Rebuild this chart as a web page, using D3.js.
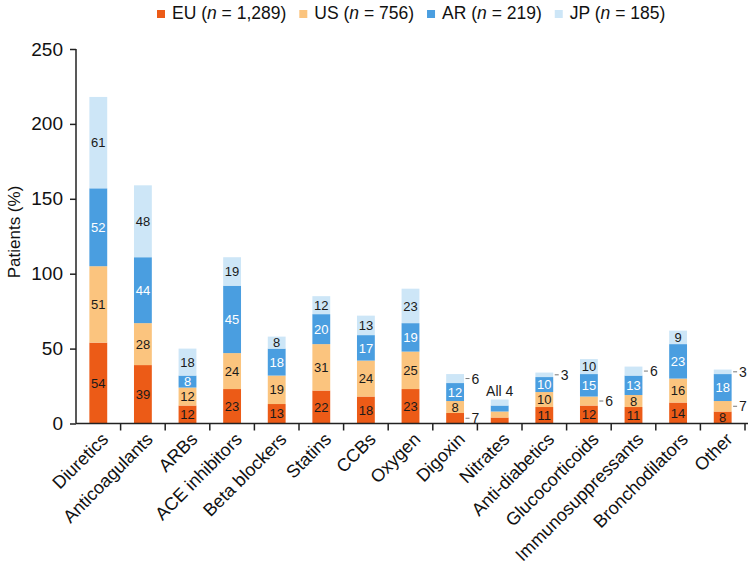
<!DOCTYPE html>
<html>
<head>
<meta charset="utf-8">
<script src="https://cdn.jsdelivr.net/npm/d3@7"></script>
<style>
  html, body { margin: 0; padding: 0; background: #fff; }
  svg { display: block; font-family: "Liberation Sans", Arial, Helvetica, sans-serif; }
</style>
</head>
<body>
<svg id="chart" width="750" height="574"></svg>
<script>
// ---- Data ----
const categories = ["Diuretics", "Anticoagulants", "ARBs", "ACE inhibitors", "Beta blockers",
  "Statins", "CCBs", "Oxygen", "Digoxin", "Nitrates", "Anti-diabetics", "Glucocorticoids",
  "Immunosuppressants", "Bronchodilators", "Other"];
const seriesNames = ["EU", "US", "AR", "JP"];
const seriesN = ["1,289", "756", "219", "185"];
const EU = [54, 39, 12, 23, 13, 22, 18, 23, 7, 4, 11, 12, 11, 14, 8];
const US = [51, 28, 12, 24, 19, 31, 24, 25, 8, 4, 10, 6, 8, 16, 7];
const AR = [52, 44, 8, 45, 18, 20, 17, 19, 12, 4, 10, 15, 13, 23, 18];
const JP = [61, 48, 18, 19, 8, 12, 13, 23, 6, 4, 3, 10, 6, 9, 3];
const yTicks = [0, 50, 100, 150, 200, 250];
const yTitle = "Patients (%)";
const unlabeledCategory = "Nitrates";
const unlabeledNote = "All 4";
const outsideThreshold = 7; // values this small are labelled beside the bar

const colors = ["#EC5B17", "#FBC47E", "#4A9EE0", "#CDE6F7"];
const labelColors = ["#1a1a1a", "#1a1a1a", "#ffffff", "#1a1a1a"];

// ---- Build table ----
const seriesValues = [EU, US, AR, JP];
const table = categories.map((c, i) => {
  const row = { category: c };
  seriesNames.forEach((s, k) => row[s] = seriesValues[k][i]);
  return row;
});
const stacked = d3.stack().keys(seriesNames)(table);

// ---- Layout ----
const svg = d3.select("#chart");
const x0 = 76, x1 = 745, yBottom = 423.5, yTop = 49;

const x = d3.scaleBand().domain(categories).range([x0, x1])
  .paddingInner(0.6).paddingOuter(0.3);
const y = d3.scaleLinear().domain([0, 250]).range([yBottom, yTop]);

// Bars
const g = svg.append("g");
stacked.forEach((layer, k) => {
  g.selectAll(null).data(layer).enter().append("rect")
    .attr("x", d => x(d.data.category))
    .attr("width", x.bandwidth())
    .attr("y", d => y(d[1]))
    .attr("height", d => y(d[0]) - y(d[1]))
    .attr("fill", colors[k]);
});

// Segment labels
stacked.forEach((layer, k) => {
  layer.forEach(d => {
    const v = d[1] - d[0];
    const cat = d.data.category;
    if (cat === unlabeledCategory) return;
    const cy = (y(d[0]) + y(d[1])) / 2;
    if (v <= outsideThreshold) {
      const bx = x(cat) + x.bandwidth();
      g.append("line")
        .attr("x1", bx + 1.5).attr("x2", bx + 5.5)
        .attr("y1", cy).attr("y2", cy)
        .attr("stroke", "#777").attr("stroke-width", 1);
      g.append("text")
        .attr("x", bx + 7.5).attr("y", cy)
        .attr("dy", "0.36em")
        .attr("font-size", 14)
        .attr("fill", "#1a1a1a")
        .text(v);
    } else {
      g.append("text")
        .attr("x", x(cat) + x.bandwidth() / 2).attr("y", cy)
        .attr("dy", "0.36em")
        .attr("text-anchor", "middle")
        .attr("font-size", 13)
        .attr("fill", labelColors[k])
        .text(v);
    }
  });
});

// "All 4" note above Nitrates
{
  const top = stacked[stacked.length - 1].find(d => d.data.category === unlabeledCategory);
  g.append("text")
    .attr("x", x(unlabeledCategory) + x.bandwidth() / 2)
    .attr("y", y(top[1]) - 4)
    .attr("text-anchor", "middle")
    .attr("font-size", 14)
    .attr("fill", "#1a1a1a")
    .text(unlabeledNote);
}

// Y axis
const yAxis = svg.append("g")
  .attr("transform", `translate(${x0},0)`)
  .call(d3.axisLeft(y).tickValues(yTicks).tickSize(6).tickPadding(7));
yAxis.select(".domain").attr("stroke", "#222").attr("stroke-width", 1.5)
  .attr("d", `M0,${yBottom}V${yTop}`);
yAxis.selectAll(".tick line").attr("stroke", "#222").attr("stroke-width", 1.5);
yAxis.selectAll(".tick text").attr("font-size", 19).attr("fill", "#111")
  .attr("font-family", "Liberation Sans, Arial, sans-serif");

// X axis line and ticks at band boundaries
const step = x.step();
const boundaries = d3.range(categories.length + 1).map(i => x0 + i * step);
svg.append("line")
  .attr("x1", x0).attr("x2", 748)
  .attr("y1", yBottom).attr("y2", yBottom)
  .attr("stroke", "#222").attr("stroke-width", 1.5);
svg.selectAll(null).data(boundaries.slice(1)).enter().append("line")
  .attr("x1", d => d).attr("x2", d => d)
  .attr("y1", yBottom).attr("y2", yBottom + 7)
  .attr("stroke", "#222").attr("stroke-width", 1.5);

// X labels
svg.selectAll(null).data(categories).enter().append("text")
  .attr("transform", d => `translate(${x(d) + x.bandwidth() / 2 + 11},${yBottom + 17}) rotate(-45)`)
  .attr("text-anchor", "end")
  .attr("font-size", 18)
  .attr("fill", "#111")
  .text(d => d);

// Y title
svg.append("text")
  .attr("transform", `translate(20,232) rotate(-90)`)
  .attr("text-anchor", "middle")
  .attr("font-size", 17)
  .attr("fill", "#111")
  .text(yTitle);

// Legend
const legend = svg.append("g");
let lx = 157;
seriesNames.forEach((s, k) => {
  legend.append("rect").attr("x", lx).attr("y", 10).attr("width", 8).attr("height", 8)
    .attr("fill", colors[k]);
  const t = legend.append("text").attr("x", lx + 15).attr("y", 19)
    .attr("font-size", 17.5).attr("fill", "#111");
  t.append("tspan").text(`${s} (`);
  t.append("tspan").attr("font-style", "italic").text("n");
  t.append("tspan").text(` = ${seriesN[k]})`);
  lx = lx + 15 + t.node().getComputedTextLength() + 13;
});
</script>
</body>
</html>
